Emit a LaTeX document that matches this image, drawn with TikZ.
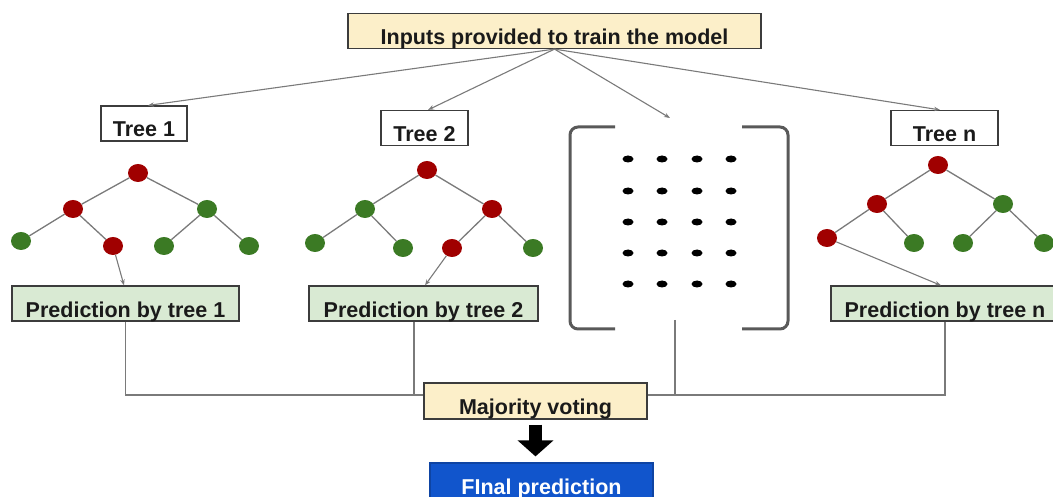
\documentclass[tikz,border=0pt]{standalone}
\usepackage{fontspec}
\setmainfont{Liberation Sans}
\usetikzlibrary{arrows.meta,shapes.geometric}
\definecolor{boxline}{HTML}{3C3C3C}
\definecolor{inputfill}{HTML}{FCEFC9}
\definecolor{predfill}{HTML}{D9EAD3}
\definecolor{finalfill}{HTML}{1155CC}
\definecolor{leafred}{HTML}{A00000}
\definecolor{leafgreen}{HTML}{3B7A24}
\definecolor{wirecol}{HTML}{7A7A7A}
\definecolor{inkcol}{HTML}{1A1A1A}
\begin{document}
\begin{tikzpicture}[x=1pt,y=-1pt,
  font=\fontsize{21.5pt}{24pt}\selectfont\bfseries,
  box/.style={rectangle, draw=boxline, line width=1.2pt, inner xsep=0pt, inner ysep=0pt,
              text height=31pt, text depth=4pt, minimum height=35pt, text=inkcol},
  inbox/.style={box, fill=inputfill},
  treebox/.style={box, fill=white},
  predbox/.style={box, fill=predfill},
  finalbox/.style={box, fill=finalfill, draw=finalfill!80!black, text=white},
  rn/.style={ellipse, fill=leafred, minimum width=20pt, minimum height=18pt, inner sep=0pt},
  gn/.style={ellipse, fill=leafgreen, minimum width=20pt, minimum height=18pt, inner sep=0pt},
  edge/.style={draw=wirecol, line width=1.3pt},
  feed/.style={draw=wirecol, line width=1.1pt, -{Stealth[length=6pt,width=4.5pt]}},
  wire/.style={draw=wirecol, line width=1.1pt},
  bracket/.style={draw=black!65, line width=3pt, rounded corners=8pt},
  dot/.style={ellipse, fill=black, minimum width=11pt, minimum height=7pt, inner sep=0pt}
]
\useasboundingbox (0,0) rectangle (1053,497);
\clip (0,0) rectangle (1053,497);

% top input box and tree labels
\node[inbox, minimum width=413pt] (in) at (554.5,31) {Inputs provided to train the model};
\node[treebox, minimum width=86pt] (t1) at (144,123.5) {Tree 1};
\node[treebox, minimum width=87pt] (t2) at (424.5,128) {Tree 2};
\node[treebox, minimum width=107pt] (tn) at (944.5,128) {Tree n};
\coordinate (mid) at (670,118);

\draw[feed] (in.south) -- ([xshift=4pt]t1.north);
\draw[feed] (in.south) -- ([xshift=3.5pt]t2.north);
\draw[feed] (in.south) -- (mid);
\draw[feed] (in.south) -- ([xshift=-4.5pt]tn.north);

% prediction boxes
\node[predbox, minimum width=227pt] (p1) at (125.5,303.5) {Prediction by tree 1};
\node[predbox, minimum width=229pt] (p2) at (423.5,303.5) {Prediction by tree 2};
\node[predbox, minimum width=228pt] (pn) at (945,303.5) {Prediction by tree n};

% tree 1
\node[rn] (a0) at (138,173) {};
\node[rn] (a1) at (73,209) {};
\node[gn] (a2) at (207,209) {};
\node[gn] (a3) at (21,241) {};
\node[rn] (a4) at (113,246) {};
\node[gn] (a5) at (164,246) {};
\node[gn] (a6) at (249,246) {};
\draw[edge] (a0) -- (a1) (a0) -- (a2) (a1) -- (a3) (a1) -- (a4) (a2) -- (a5) (a2) -- (a6);
\draw[feed] (a4) -- ([xshift=-1.5pt]p1.north);

% tree 2
\node[rn] (b0) at (427,170) {};
\node[gn] (b1) at (365,209) {};
\node[rn] (b2) at (492,209) {};
\node[gn] (b3) at (315,243) {};
\node[gn] (b4) at (403,248) {};
\node[rn] (b5) at (452,248) {};
\node[gn] (b6) at (533,248) {};
\draw[edge] (b0) -- (b1) (b0) -- (b2) (b1) -- (b3) (b1) -- (b4) (b2) -- (b5) (b2) -- (b6);
\draw[feed] (b5) -- ([xshift=1.5pt]p2.north);

% tree n
\node[rn] (c0) at (938,165) {};
\node[rn] (c1) at (877,204) {};
\node[gn] (c2) at (1003,204) {};
\node[rn] (c3) at (827,238) {};
\node[gn] (c4) at (914,243) {};
\node[gn] (c5) at (963,243) {};
\node[gn] (c6) at (1044,243) {};
\draw[edge] (c0) -- (c1) (c0) -- (c2) (c1) -- (c3) (c1) -- (c4) (c2) -- (c5) (c2) -- (c6);
\draw[feed] (c3) -- ([xshift=-4pt]pn.north);

% the elided trees between the brackets
\draw[bracket] (615,127) -- (570,127) -- (570,329) -- (615,329);
\draw[bracket] (742,127) -- (788,127) -- (788,329) -- (742,329);
\foreach \cx [count=\i] in {628,662,697,731}
  \foreach \cy [count=\j] in {159,191,222,253,284}
    \node[dot] (d\i\j) at (\cx,\cy) {};
\coordinate (gap) at (675,320);

% voting
\node[inbox, minimum width=223pt, minimum height=36pt, text height=31pt, text depth=5pt] (mv) at (535.5,401) {Majority voting};
\coordinate (bus) at (0,395);
\draw[wire] (p1.south) |- (bus -| mv.west);
\draw[wire] (pn.south) |- (bus -| mv.east);
\draw[wire] ([xshift=-9.5pt]p2.south) -- ([xshift=-9.5pt]p2.south |- bus);
\draw[wire] (gap) -- (gap |- bus);

\node[finalbox, minimum width=223pt, text height=31pt, text depth=4pt] (fp) at (541.5,480.5) {FInal prediction};
\coordinate (fptop) at ([yshift=6pt]fp.north -| mv.south);
\draw[line width=13pt, -{Triangle[width=35pt,length=16pt]}] ([yshift=-5pt]mv.south) -- (fptop);
\end{tikzpicture}
\end{document}
